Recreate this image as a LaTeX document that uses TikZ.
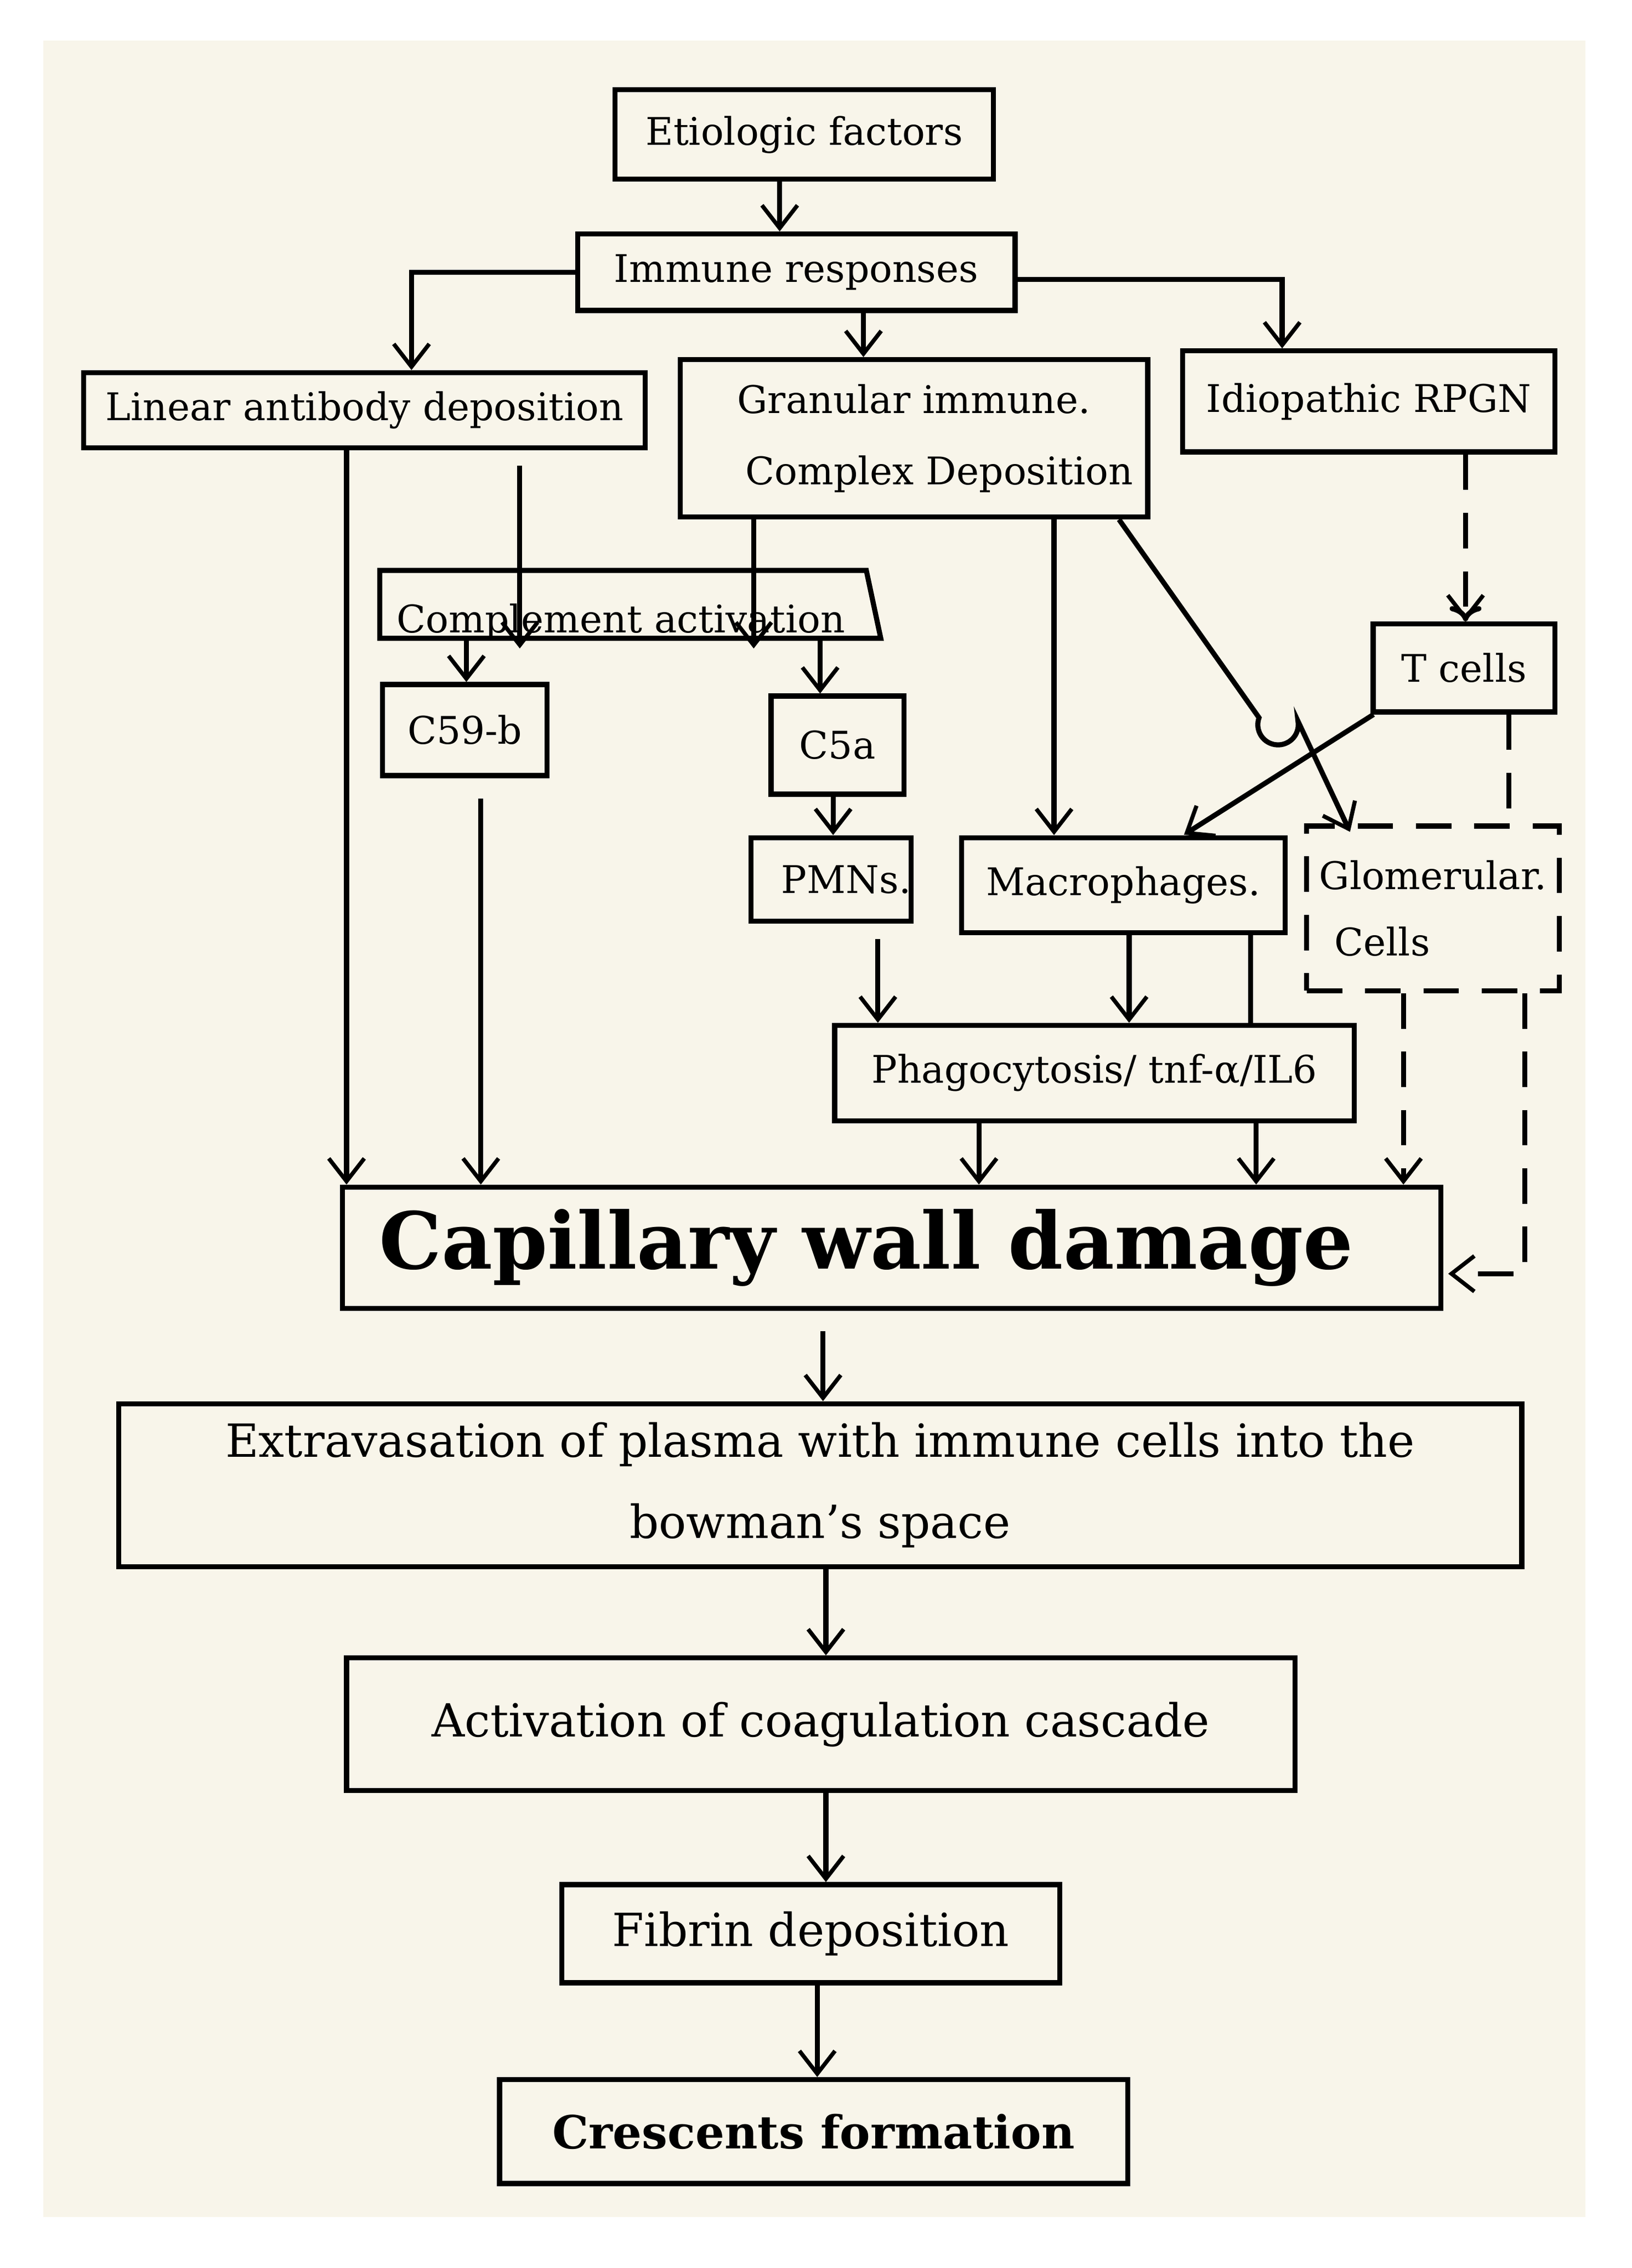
\documentclass[tikz,border=0pt]{standalone}
\usepackage{fontspec}
\setmainfont{DejaVu Serif}
\usetikzlibrary{arrows.meta,calc}
\definecolor{cream}{HTML}{F8F5EA}
\begin{document}
\begin{tikzpicture}[x=0.02cm,y=-0.02cm,
  box/.style={draw,line width=2pt,inner sep=0pt,align=center,font=\fontsize{15}{18}\selectfont},
  arr/.style={line width=2pt,-{Straight Barb[length=9pt,width=14pt,line width=1.6pt]}},
  dsh/.style={dash pattern=on 14pt off 9pt}]
\useasboundingbox (0,0) rectangle (1130,1570.5);
\fill[white] (0,0) rectangle (1130,1570.5);
\fill[cream] (30,28) rectangle (1098,1535);
\node[box,minimum width=5.24cm,minimum height=1.24cm] (eti) at (557,93) {\raisebox{-12pt}{Etiologic factors}};
\node[box,minimum width=6.06cm,minimum height=1.06cm] (imm) at (551.5,188.5) {\raisebox{-8pt}{Immune responses}};
\node[box,minimum width=7.78cm,minimum height=1.04cm] (lin) at (252.5,284) {\raisebox{-6pt}{Linear antibody deposition}};
\node[box,minimum width=6.48cm,minimum height=2.18cm] (gran) at (633,303.5) {Granular immune.\\[10pt]\hspace*{20pt}Complex Deposition};
\node[box,minimum width=5.16cm,minimum height=1.4cm] (idio) at (948,278) {Idiopathic RPGN};
\draw[line width=2pt] (263,395) -- (600,395) -- (610,442) -- (263,442) -- cycle;
\node[inner sep=0pt,font=\fontsize{15}{18}\selectfont] (comp) at (430,431) {Complement activation};
\coordinate (compS) at (436,442);
\node[box,minimum width=2.28cm,minimum height=1.26cm] (c59) at (322,505.5) {C59-b};
\node[box,minimum width=1.84cm,minimum height=1.36cm] (c5a) at (580,516) {C5a};
\node[box,minimum width=2.52cm,minimum height=1.22cm] (tc) at (1014,462.5) {T cells};
\node[box,minimum width=2.22cm,minimum height=1.16cm] (pmn) at (575.5,609) {\hspace*{12pt}PMNs.};
\node[box,minimum width=4.48cm,minimum height=1.32cm] (mac) at (778,613) {Macrophages.};
\node[box,dsh,minimum width=3.5cm,minimum height=2.28cm] (glo) at (992.5,629) {Glomerular.\\[8pt]\hspace*{-40pt}Cells};
\node[box,minimum width=7.2cm,minimum height=1.32cm] (pha) at (758,743) {\raisebox{-6pt}{Phagocytosis/ tnf-α/IL6}};
\node[box,minimum width=15.22cm,minimum height=1.68cm,font=\fontsize{31}{36}\bfseries\selectfont] (cap) at (617.5,864) {\hspace*{-20pt}Capillary wall damage};
\node[box,minimum width=19.44cm,minimum height=2.26cm,font=\fontsize{18}{28}\selectfont] (ext) at (568,1028.5) {\raisebox{-10pt}{Extravasation of plasma with immune cells into the}\\[4pt]\raisebox{-10pt}{bowman’s space}};
\node[box,minimum width=13.14cm,minimum height=1.84cm,font=\fontsize{18}{22}\selectfont] (act) at (568.5,1194) {Activation of coagulation cascade};
\node[box,minimum width=6.9cm,minimum height=1.36cm,font=\fontsize{18}{22}\selectfont] (fib) at (561.5,1339) {Fibrin deposition};
\node[box,minimum width=8.7cm,minimum height=1.44cm,font=\fontsize{18}{22}\bfseries\selectfont] (cre) at (563.5,1476) {Crescents formation};
% helper x coordinates
\foreach \n/\x in {a240/240,a360/360,a522/522,a323/323,a568/568,a333/333,a577/577,a730/730,a608/608,a782/782,a866/866,a678/678,a972/972,a1056/1056,a1015/1015,a1045/1045,a570/570,a566/566,a540/540,a598/598,a285/285,a888/888}
  \coordinate (\n) at (\x,0);
\draw[arr] (eti.south -| a540) -- (imm.north -| a540);
\draw[arr] (imm.west) -| (lin.north -| a285);
\draw[arr] (imm.south -| a598) -- (gran.north -| a598);
\draw[arr] (imm.east) ++(0,5) -| (idio.north -| a888);
\draw[arr] (lin.south -| a240) -- (cap.north -| a240);
\draw[arr] ([yshift=-6pt]lin.south -| a360) -- ([yshift=-4pt]compS -| a360) coordinate (t1);
\draw[arr] (gran.south -| a522) -- ([yshift=-4pt]compS -| a522);
\draw[arr] (compS -| a323) -- (c59.north -| a323);
\draw[arr] (compS -| a568) -- (c5a.north -| a568);
\draw[arr] ([yshift=-8pt]c59.south -| a333) -- (cap.north -| a333);
\draw[arr] (c5a.south -| a577) -- (pmn.north -| a577);
\draw[arr] (gran.south -| a730) -- (mac.north -| a730);
\draw[arr] (gran.south -| {(775,0)}) -- (872,497) arc[start angle=200,end angle=-10,radius=14] -- (935,576);
\draw[arr] (tc.south west) ++(2,0) -- (820,578);
\draw[line width=2pt,dsh,->] (idio.south -| a1015) -- (tc.north -| a1015);
\draw[arr,dsh,-{Straight Barb[length=9pt,width=14pt,line width=1.6pt]}] (idio.south -| a1015) -- (tc.north -| a1015);
\draw[line width=2pt,dsh] (tc.south -| a1045) -- (glo.north -| a1045);
\draw[arr] ([yshift=-6pt]pmn.south -| a608) -- (pha.north -| a608);
\draw[arr] (mac.south -| a782) -- (pha.north -| a782);
\draw[line width=2pt] (mac.south -| a866) -- (pha.north -| a866);
\draw[arr] (pha.south -| {(870,0)}) -- (cap.north -| {(870,0)});
\draw[arr] (pha.south -| a678) -- (cap.north -| a678);
\draw[arr,dsh] (glo.south -| a972) -- (cap.north -| a972);
\draw[arr,dsh] (glo.south -| a1056) -- (1056,882) -- (1003,882);
\draw[arr] ([yshift=-8pt]cap.south -| a570) -- (ext.north -| a570);
\draw[arr] (ext.south -| {(572,0)}) -- (act.north -| {(572,0)});
\draw[arr] (act.south -| {(572,0)}) -- (fib.north -| {(572,0)});
\draw[arr] (fib.south -| a566) -- (cre.north -| a566);
\end{tikzpicture}
\end{document}
